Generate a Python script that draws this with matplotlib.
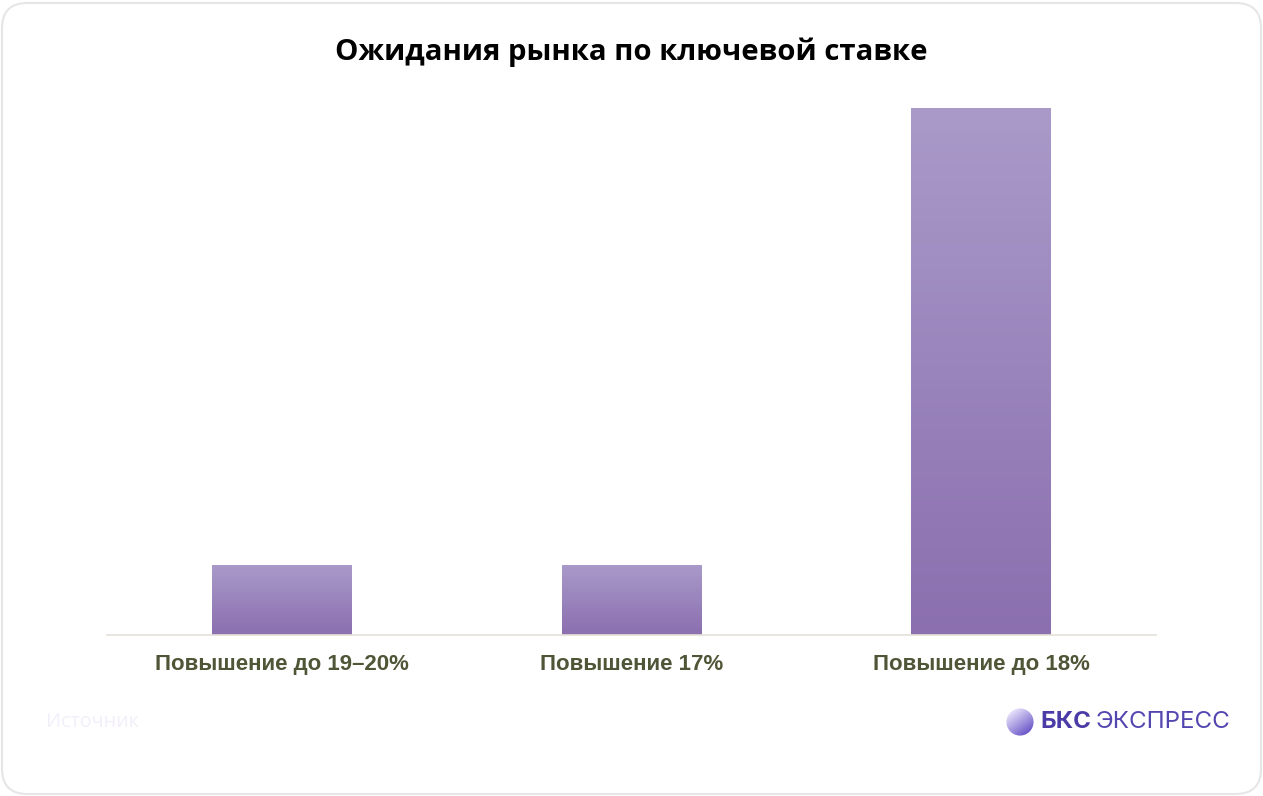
import matplotlib
matplotlib.use("Agg")
import matplotlib.pyplot as plt
import numpy as np
from matplotlib.patches import FancyBboxPatch, Circle
from matplotlib.colors import LinearSegmentedColormap

categories = ["Повышение до 19–20%", "Повышение 17%", "Повышение до 18%"]
values = [2, 2, 15]
title = "Ожидания рынка по ключевой ставке"

W, H = 1263, 796
fig = plt.figure(figsize=(W / 100, H / 100), dpi=100)
fig.patch.set_facecolor("white")

# card border
card = FancyBboxPatch((2 / W, 2 / H), (W - 4) / W, (H - 5) / H,
                      boxstyle="round,pad=0,rounding_size=0.02",
                      transform=fig.transFigure, facecolor="white",
                      edgecolor="#E6E6E6", linewidth=1.5, mutation_aspect=W / H,
                      zorder=-10)
fig.patches.append(card)

ax = fig.add_axes([107 / W, 1 - 635 / H, 1049 / W, 527 / H])
ax.set_facecolor("none")
x = np.arange(len(categories))
bars = ax.bar(x, values, width=0.4, color="none", edgecolor="none")

cmap = LinearSegmentedColormap.from_list("g", ["#8B6FAF", "#A99AC9"])
grad = np.linspace(0, 1, 256).reshape(-1, 1)
for b in bars:
    x0, y0 = b.get_x(), b.get_y()
    w, h = b.get_width(), b.get_height()
    im = ax.imshow(grad, extent=[x0, x0 + w, y0, y0 + h], origin="lower",
                   cmap=cmap, aspect="auto", zorder=2)
    im.set_clip_path(b)
ax.set_xlim(-0.5, 2.5)
ax.set_ylim(0, max(values))

for s in ["top", "right", "left"]:
    ax.spines[s].set_visible(False)
ax.spines["bottom"].set_color("#E4E2D8")
ax.spines["bottom"].set_linewidth(1.2)
ax.set_yticks([])
ax.set_xticks(x)
ax.set_xticklabels(categories, fontfamily="Liberation Sans", fontweight="bold",
                   fontsize=16, color="#4F5537")
ax.tick_params(axis="x", length=0, pad=14)

fig.text(631 / W, 1 - 52 / H, title, ha="center", va="center",
         fontfamily="Open Sans", fontweight="bold", fontsize=21.2, color="black")

fig.text(46 / W, 1 - 722 / H, "Источник", ha="left", va="center",
         fontfamily="Open Sans", fontsize=14.2, color="#F2EFFA")

# logo
logo_cmap = LinearSegmentedColormap.from_list("l", ["#6A55C8", "#E9E4FB"])
lax = fig.add_axes([1006 / W, 1 - 736 / H, 28 / W, 28 / H])
lax.set_xlim(-1, 1); lax.set_ylim(-1, 1); lax.axis("off")
yy, xx = np.mgrid[-1:1:100j, -1:1:100j]
gz = np.clip(0.5 + 0.5 * (-xx * 0.6 + yy * 0.8), 0, 1)
lim = lax.imshow(gz, extent=[-1, 1, -1, 1], origin="lower", cmap=logo_cmap)
circ = Circle((0, 0), 0.97, transform=lax.transData, facecolor="none", edgecolor="none")
lax.add_patch(circ)
lim.set_clip_path(circ)
fig.text(1040 / W, 1 - 722 / H, "БКС", ha="left", va="center",
         fontfamily="Inter", fontweight="bold", fontsize=17.4, color="#4B3BA6")
fig.text(1096 / W, 1 - 722 / H, "ЭКСПРЕСС", ha="left", va="center",
         fontfamily="Inter", fontsize=17.4, color="#5446B0")

fig.savefig("out.png", dpi=100, facecolor="white")
